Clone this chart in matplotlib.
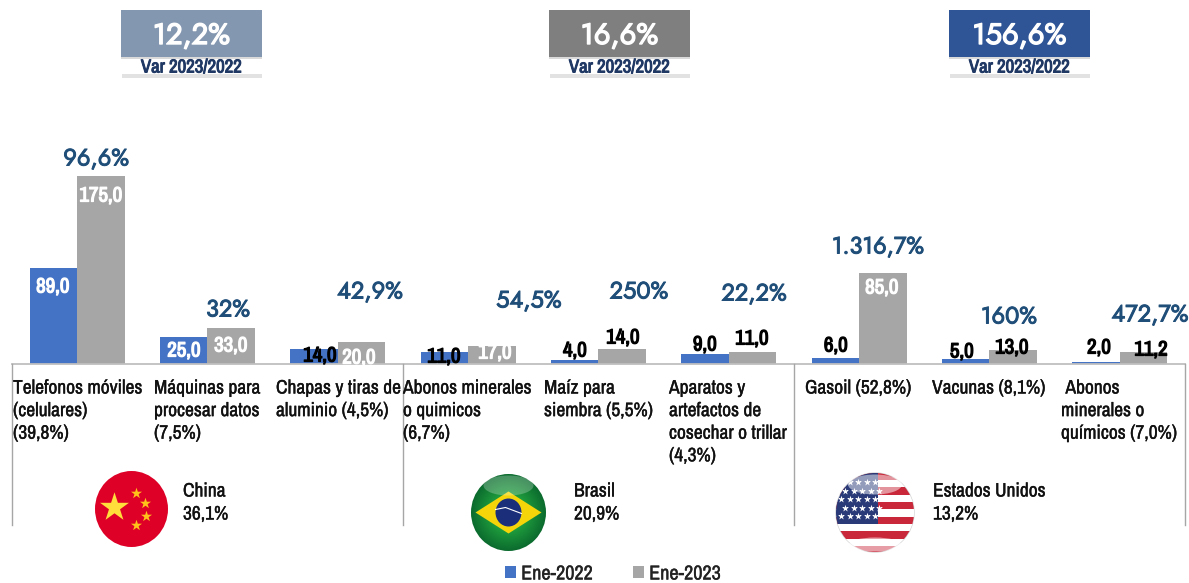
import numpy as np
import matplotlib
matplotlib.use("Agg")
import matplotlib.pyplot as plt
import matplotlib.patheffects as pe
from matplotlib.patches import Rectangle, Ellipse, Polygon
from matplotlib.colors import LinearSegmentedColormap

# ---------- data ----------
categories = ["Telefonos móviles\n(celulares)\n(39,8%)", "Máquinas para\nprocesar datos\n(7,5%)",
              "Chapas y tiras de\naluminio (4,5%)", "Abonos minerales\no quimicos\n(6,7%)",
              "Maíz para\nsiembra (5,5%)", "Aparatos y\nartefactos de\ncosechar o trillar\n(4,3%)",
              "Gasoil (52,8%)", "Vacunas (8,1%)", " Abonos\nminerales o\nquímicos (7,0%)"]
ene_2022 = [89.0, 25.0, 14.0, 11.0, 4.0, 9.0, 6.0, 5.0, 2.0]
ene_2023 = [175.0, 33.0, 20.0, 17.0, 14.0, 11.0, 85.0, 13.0, 11.2]
variation = ["96,6%", "32%", "42,9%", "54,5%", "250%", "22,2%", "1.316,7%", "160%", "472,7%"]
countries = ["China", "Brasil", "Estados Unidos"]
country_share = ["36,1%", "20,9%", "13,2%"]
headline = ["12,2%", "16,6%", "156,6%"]
headline_sub = "Var 2023/2022"

# ---------- layout (pixels) ----------
W, H = 1189, 583
NARROW = ["Archivo Narrow", "Liberation Sans", "DejaVu Sans"]
GEO = ["Jost", "Lato", "DejaVu Sans"]
BLUE, GRAY = "#4472C4", "#A6A6A6"
PCT = "#1F4E79"


def heavy(t, width, color):
    t.set_path_effects([pe.withStroke(linewidth=width, foreground=color)])
    return t


fig = plt.figure(figsize=(W / 100, H / 100), dpi=100, facecolor="white")
base_y, left_x, right_x = 364, 12, 1185
ax = fig.add_axes([left_x / W, 1 - base_y / H, (right_x - left_x) / W, base_y / H])
x = np.arange(len(categories))
bw = 0.365
b1 = ax.bar(x - bw / 2, ene_2022, bw, color=BLUE, label="Ene-2022")
b2 = ax.bar(x + bw / 2, ene_2023, bw, color=GRAY, label="Ene-2023")
ax.set_xlim(-0.5, 8.5)
ax.set_ylim(0, base_y / 1.076)
ax.axis("off")

ov = fig.add_axes([0, 0, 1, 1], facecolor="none")
ov.set_xlim(0, W)
ov.set_ylim(H, 0)
ov.axis("off")

# frame lines
ov.plot([left_x, right_x], [base_y, base_y], color="#BFBFBF", lw=1.3, zorder=2)
for vx in (12, 403, 794, 1185):
    ov.plot([vx, vx], [base_y, 525], color="#A6A6A6", lw=1.0, zorder=2)

# data labels
lab1_pos = [(53, 287), (184, 351), (320, 356), (444, 357), (575, 351), (705, 345), (836, 346), (962, 352), (1099, 348)]
lab2_pos = [(101, 196), (231, 346), (359, 358), (495, 353), (623, 338), (752, 339), (882, 288), (1012, 348), (1151, 350)]
lab1_col = ["white", "white"] + ["black"] * 7
lab2_col = ["white", "white", "white", "white", "black", "black", "white", "black", "black"]
clip = Rectangle((0, 0), W, base_y + 1, transform=ov.transData)
for vals, pos, cols in ((ene_2022, lab1_pos, lab1_col), (ene_2023, lab2_pos, lab2_col)):
    for v, (px, py), c in zip(vals, pos, cols):
        t = ov.text(px, py, f"{v:.1f}".replace(".", ","), color=c, ha="center", va="center",
                    family=NARROW, fontsize=15, zorder=4)
        heavy(t, 0.9, c)
        t.set_clip_path(clip)

# variation labels
pct_pos = [(96, 159), (228, 310), (370, 292), (529, 301), (639, 292), (754, 294), (878, 247), (1009, 317), (1150, 315)]
for s, (px, py) in zip(variation, pct_pos):
    heavy(ov.text(px, py, s, color=PCT, ha="center", va="center", family=GEO, fontsize=17, zorder=4), 0.7, PCT)

# category labels
cat_x = [13, 154, 276, 403, 544, 669, 805, 932, 1061]
for s, cx in zip(categories, cat_x):
    for i, line in enumerate(s.split("\n")):
        heavy(ov.text(cx, 388 + i * 22.6, line, color="#111111", ha="left", va="center",
                      family=NARROW, fontsize=14, zorder=4), 0.25, "#111111")

# headline boxes
box_x = [121, 549, 949]
box_col = ["#8497B0", "#7F7F7F", "#2F5597"]
for s, bx, c in zip(headline, box_x, box_col):
    ov.add_patch(Rectangle((bx + 1, 74), 140, 3.5, color="#E2E2E2", lw=0))
    ov.add_patch(Rectangle((bx, 10), 141, 47, color=c, lw=0))
    ov.add_patch(Rectangle((bx, 57), 141, 2, color="#DADADA", lw=0))
    heavy(ov.text(bx + 70.5, 36, s, color="white", ha="center", va="center", family=GEO, fontsize=21), 1.0, "white")
    heavy(ov.text(bx + 70.5, 67.5, headline_sub, color="#1F3864", ha="center", va="center",
                  family=NARROW, fontsize=13.5), 0.7, "#1F3864")

# country labels
for name, share, cx in zip(countries, country_share, (183, 574, 933)):
    heavy(ov.text(cx, 491, name, color="#111111", ha="left", va="center", family=NARROW, fontsize=14), 0.25, "#111111")
    heavy(ov.text(cx, 514, share, color="#111111", ha="left", va="center", family=NARROW, fontsize=14), 0.25, "#111111")


# ---------- flags ----------
def disc(cx, cy, rx, ry, **kw):
    e = Ellipse((cx, cy), 2 * rx, 2 * ry, **kw)
    ov.add_patch(e)
    return e


def stars(pts, size, color, clip_to=None, z=5):
    xs, ys = zip(*pts)
    sc = ov.scatter(xs, ys, marker="*", s=size, color=color, linewidths=0, zorder=z)
    if clip_to is not None:
        sc.set_clip_path(clip_to)


# China
disc(131.5, 509, 36.5, 38, color="#DE0027", lw=0, zorder=3)
stars([(114, 507)], 480, "#FFDE3B")
stars([(136, 493), (145, 503), (146, 516), (136, 525)], 70, "#FFC21A")

# Brasil
bcx, bcy, brx, bry = 508.5, 512.5, 37.5, 38.5
grad = np.hypot(*np.meshgrid(np.linspace(-1, 1, 120), np.linspace(-1, 1, 120)))
cm = LinearSegmentedColormap.from_list("g", ["#35B34A", "#1E9A3C", "#0B6B2E"])
im = ov.imshow(grad, cmap=cm, vmin=0, vmax=1, extent=(bcx - brx, bcx + brx, bcy + bry, bcy - bry),
               aspect="auto", zorder=3, interpolation="bilinear")
im.set_clip_path(disc(bcx, bcy, brx, bry, fc="none", lw=0, zorder=3))
ov.set_xlim(0, W)
ov.set_ylim(H, 0)
ov.add_patch(Polygon([(bcx - 33, bcy), (bcx, bcy - 21), (bcx + 33, bcy), (bcx, bcy + 21)], color="#F5D50A", lw=0, zorder=4))
disc(bcx, bcy, 13, 14, color="#1B2E7A", lw=0, zorder=5)
ov.plot([bcx - 13, bcx - 3, bcx + 13], [bcy - 3, bcy - 5, bcy + 1], color="white", lw=0.8, zorder=6)
disc(bcx, bcy - 27, 25, 10, color="white", alpha=0.25, lw=0, zorder=6)

# Estados Unidos
ucx, ucy, urx, ury = 875, 512.5, 39, 39.5
edge = disc(ucx, ucy, urx, ury, fc="white", ec="#D5D5D5", lw=1, zorder=3)
stripe_top, stripe_h = 472.6, 7.35
for i in range(11):
    c = "#C8283A" if i % 2 == 0 else "#FFFFFF"
    r = Rectangle((ucx - urx, stripe_top + i * stripe_h), 2 * urx, stripe_h, color=c, lw=0, zorder=3.5)
    ov.add_patch(r)
    r.set_clip_path(edge)
canton = Rectangle((ucx - urx, ucy - ury), 42, 50.5, color="#2A3A78", lw=0, zorder=4)
ov.add_patch(canton)
canton.set_clip_path(edge)
star_pts = [(ucx - 34 + 8.5 * c + (4.2 if r % 2 else 0), 482 + 8.5 * r) for r in range(5) for c in range(5)]
stars(star_pts, 28, "white", clip_to=edge)
disc(ucx, ucy - 28, 27, 10, color="white", alpha=0.5, lw=0, zorder=6)
disc(ucx, ucy + 32, 26, 7, color="white", alpha=0.55, lw=0, zorder=6)

# legend
leg = ax.legend(handles=[b1, b2], loc="center", bbox_to_anchor=(613 / W, 1 - 574 / H),
                bbox_transform=fig.transFigure, ncol=2, frameon=False,
                prop={"family": NARROW, "size": 14.5},
                handlelength=0.55, handleheight=0.55, handletextpad=0.25, columnspacing=2.0, labelcolor="#222222")
for t in leg.get_texts():
    heavy(t, 0.25, "#222222")

fig.savefig("out.png", dpi=100, facecolor="white")
